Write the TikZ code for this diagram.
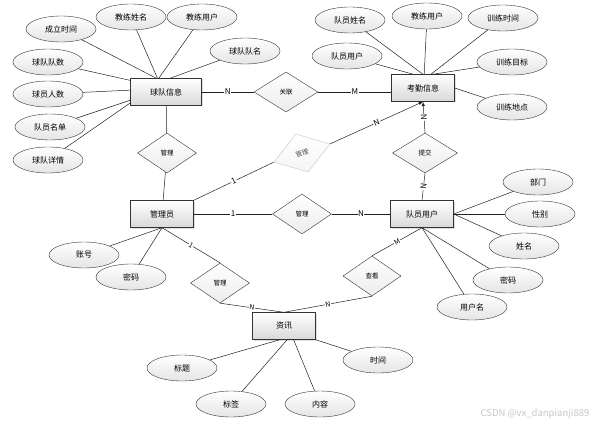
\documentclass[tikz,border=0pt]{standalone}
\usepackage{fontspec}
\setmainfont{Noto Sans CJK SC}
\usetikzlibrary{shapes.geometric,shadows}

\tikzset{
  entity/.style={draw=gray!40!black, top color=white, bottom color=gray!30,
    minimum width=63pt, minimum height=27pt, inner sep=0pt,
    font=\fontsize{8}{9}\selectfont,
    drop shadow={opacity=0.25, shadow xshift=1pt, shadow yshift=-1pt}},
  attr/.style={ellipse, draw=gray!40!black, top color=white, bottom color=gray!20,
    minimum width=70pt, minimum height=26pt, inner sep=0pt,
    font=\fontsize{8}{9}\selectfont},
  relbox/.style={diamond, draw=gray!40!black, top color=white, bottom color=gray!15,
    minimum width=59pt, minimum height=40pt, inner sep=0pt,
    font=\fontsize{6.5}{7}\selectfont},
  card/.style={fill=white, inner sep=0.6pt, font=\fontsize{8}{9}\selectfont},
  link/.style={draw=gray!25!black, line width=0.5pt},
}

\begin{document}
\begin{tikzpicture}[x=1pt, y=-1pt, >=latex]
  \useasboundingbox (0,0) rectangle (599,425);

  % entities
  \node[entity, minimum width=71pt] (team) at (166,92) {球队信息};
  \node[entity] (att) at (423,88) {考勤信息};
  \node[entity] (admin) at (162,214) {管理员};
  \node[entity] (player) at (422,214) {队员用户};
  \node[entity] (news) at (284,326) {资讯};

  % relations
  \node[relbox, minimum width=64pt] (link1) at (286,92) {关联};
  \node[relbox] (mg1) at (167,153) {管理};
  \node[relbox, rotate=18, draw=gray!45, bottom color=gray!8, text=gray!60!black] (mg2) at (302,153) {管理};
  \node[relbox, minimum width=65pt] (sub) at (425,153) {提交};
  \node[relbox] (mg3) at (302,214) {管理};
  \node[relbox] (mg4) at (220,283) {管理};
  \node[relbox, minimum width=58pt] (view) at (372,276) {查看};

  \draw[link] (team.east |- link1) -- node[card] {N} (link1.west);
  \draw[link] (link1.east) -- node[card] {M} (link1.east -| att.west);
  \draw[link] (team) -- (mg1) -- (admin);
  \draw[link] (admin.north east) -- node[card, sloped] {1} (mg2.west);
  \draw[link, ->] (mg2.east) -- node[card, sloped] {N} (att.south);
  \draw[link] (player.north) -- node[card, sloped] {N} (sub.south);
  \draw[link, ->] (sub.north) -- node[card, sloped] {N} (att.south);
  \draw[link] (admin.east) -- node[card] {1} (mg3.west);
  \draw[link] (mg3.east) -- node[card] {N} (player.west);
  \draw[link] (admin.south) -- node[card, sloped, font=\fontsize{7}{8}\selectfont] {1} (mg4.north);
  \draw[link] (mg4.south) -- node[card, sloped, font=\fontsize{7}{8}\selectfont] {N} (news.north);
  \draw[link] (player.south) -- node[card, sloped, font=\fontsize{7}{8}\selectfont] {M} (view.north);
  \draw[link] (view.south) -- node[card, sloped, font=\fontsize{7}{8}\selectfont] {N} (news.north);

  % attributes
  \foreach \nm/\x/\y/\txt/\tgt in {
    t1/61/29/成立时间/team.125,
    t2/131/17/教练姓名/team.122,
    t3/202/17/教练用户/team.118,
    t4/245/51/球队队名/team.74,
    t5/48/62/球队队数/team.162,
    t6/48/94/球员人数/team.177,
    t7/50/127/队员名单/team.193,
    t8/48/160/球队详情/team.197,
    k1/350/20/队员姓名/att.north,
    k2/427/16/教练用户/att.85,
    k3/503/18/训练时间/att.60,
    k4/347/56/队员用户/att.125,
    k5/512/62/训练目标/att.55,
    k6/512/107/训练地点/att.east,
    p1/538/182/部门/player.east,
    p2/540/214/性别/player.east,
    p3/524/246/姓名/player.east,
    p4/508/280/密码/player.south,
    p5/472/307/用户名/player.south,
    m1/84/255/账号/admin.south,
    m2/131/277/密码/admin.south,
    n1/182/368/标题/news.253,
    n2/231/404/标签/news.283,
    n3/320/404/内容/news.305,
    n4/378/360/时间/news.south east}{
    \node[attr] (\nm) at (\x,\y) {\txt};
    \draw[link] (\nm) -- (\tgt);
  }

  \node[text=gray!45, font=\fontsize{9.5}{10}\selectfont, inner sep=0pt] (mark) at (535,414) {CSDN @vx\_danpianji889};
\end{tikzpicture}
\end{document}
